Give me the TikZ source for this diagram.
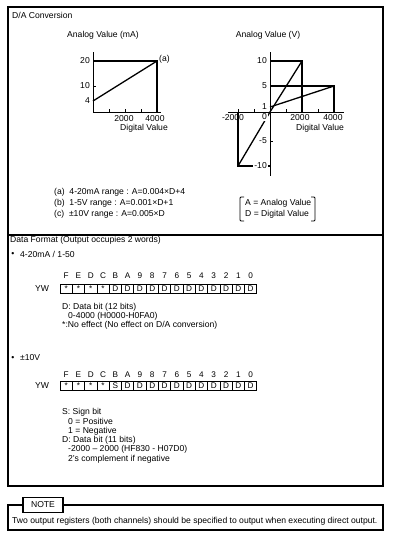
\documentclass[tikz,border=0pt]{standalone}
\usepackage{fontspec}
\setmainfont{Liberation Sans}
\begin{document}
\begin{tikzpicture}[x=1pt,y=-1pt,
  txt/.style={font=\fontsize{8.6}{10}\selectfont, inner sep=0pt},
  lbl/.style={txt, anchor=west},
  rlbl/.style={txt, anchor=east},
  frame/.style={line width=1.2pt},
  gline/.style={line width=1.3pt},
  axis/.style={line width=1pt},
  cellbox/.style={draw, line width=0.8pt, minimum width=12.3pt, minimum height=9pt, inner sep=0pt, font=\fontsize{8.2}{9}\selectfont},
  bitlbl/.style={font=\fontsize{8.2}{9}\selectfont, inner sep=0pt},
  ]
\useasboundingbox (0,0) rectangle (400,558);
% frames
\draw[frame] (8,7) rectangle (383,486);
\draw[frame] (8,235) -- (383,235);
\node[lbl] (title) at (12,15) {D/A Conversion};
% ---------- left graph
\node[txt] (ylabA) at (103,35) {Analog Value (mA)};
\coordinate (Ao) at (93,112);
\coordinate (Atop) at (93,52);
\coordinate (Aend) at (161,112);
\draw[axis] (Atop) -- (Ao) -- (Aend);
\foreach \x in {109,125,141,157} \draw[axis] (\x,112) -- (\x,109);
\draw[axis] (93,86) -- (96,86);
\coordinate (A20) at (93,61);
\coordinate (A20r) at (157,61);
\coordinate (A4) at (93,101);
\draw[gline] (A20) -- (A20r) -- (157,112);
\draw[gline] (A4) -- (A20r);
\node[rlbl] (a20) at (90,61) {20};
\node[rlbl] (a10) at (90,86) {10};
\node[rlbl] (a4) at (90,101) {4};
\node[lbl] (aa) at (159,59) {(a)};
\node[txt] (ax2) at (124,119) {2000};
\node[txt] (ax4) at (155,119) {4000};
\node[txt] (axl) at (144,128) {Digital Value};
% ---------- right graph
\node[txt] (ylabV) at (268,35) {Analog Value (V)};
\draw[axis] (270,52) -- (270,176);
\draw[axis] (228,112) -- (344,112);
\foreach \x in {238,254,286,302,318,334} \draw[axis] (\x,112) -- (\x,109);
\draw[axis] (270,141) -- (273,141);
\draw[gline] (270,61) -- (302,61) -- (302,112);
\draw[gline] (270,86) -- (334,86) -- (334,112);
\draw[gline] (270,107) -- (334,86);
\draw[gline] (238,166) -- (270,112) -- (302,61);
\draw[gline] (238,112) -- (238,166) -- (270,166);
\node[rlbl] (v10) at (267,61) {10};
\node[rlbl] (v5) at (267,86) {5};
\node[rlbl] (v1) at (267,107) {1};
\node[rlbl, fill=white, inner sep=1pt] (v0) at (268,117) {0};
\node[rlbl, fill=white, inner sep=1pt] (vm5) at (268,141) {-5};
\node[rlbl, fill=white, inner sep=1pt] (vm10) at (268,166) {-10};
\node[txt] (vxm2) at (233,118) {-2000};
\node[txt] (vx2) at (300,118) {2000};
\node[txt] (vx4) at (333,118) {4000};
\node[txt] (vxl) at (320,128) {Digital Value};
% legend bracket
\draw[line width=0.9pt, rounded corners=1pt] (244,197) -- (240,197) -- (240,221) -- (244,221);
\draw[line width=0.9pt, rounded corners=1pt] (311,197) -- (315,197) -- (315,221) -- (311,221);
\node[lbl] (leg1) at (245,203) {A = Analog Value};
\node[lbl] (leg2) at (245,214) {D = Digital Value};
% formulas
\node[lbl] (fa) at (54,192) {(a)\ \ 4-20mA range : A=0.004×D+4};
\node[lbl] (fb) at (54,203) {(b)\ \ 1-5V range : A=0.001×D+1};
\node[lbl] (fc) at (54,214) {(c)\ \ ±10V range : A=0.005×D};
% ---------- data format
\node[lbl] (df) at (10,240) {Data Format (Output occupies 2 words)};
\node[txt] (b1) at (13,254) {•};
\node[lbl] (b1t) at (20,254) {4-20mA / 1-50};
\foreach \l [count=\i from 0] in {F,E,D,C,B,A,9,8,7,6,5,4,3,2,1,0}
  \node[bitlbl] (ta\i) at ({60+12.3*(\i+0.5)},276) {\l};
\node[txt] (yw1) at (42,288.5) {YW};
\foreach \l [count=\i from 0] in {*,*,*,*,D,D,D,D,D,D,D,D,D,D,D,D}
  \node[cellbox] (ca\i) at ({60+12.3*(\i+0.5)},288.5) {\l};
\node[lbl] (d1) at (62,307) {D: Data bit (12 bits)};
\node[lbl] (d2) at (68,316) {0-4000 (H0000-H0FA0)};
\node[lbl] (d3) at (62,325) {*:No effect (No effect on D/A conversion)};
\node[txt] (b2) at (13,358) {•};
\node[lbl] (b2t) at (20,358) {±10V};
\foreach \l [count=\i from 0] in {F,E,D,C,B,A,9,8,7,6,5,4,3,2,1,0}
  \node[bitlbl] (tb\i) at ({60+12.3*(\i+0.5)},375) {\l};
\node[txt] (yw2) at (42,385.5) {YW};
\foreach \l [count=\i from 0] in {*,*,*,*,S,D,D,D,D,D,D,D,D,D,D,D}
  \node[cellbox] (cb\i) at ({60+12.3*(\i+0.5)},385.5) {\l};
\node[lbl] (s1) at (62,412) {S: Sign bit};
\node[lbl] (s2) at (68,421) {0 = Positive};
\node[lbl] (s3) at (68,431) {1 = Negative};
\node[lbl] (s4) at (62,440) {D: Data bit (11 bits)};
\node[lbl] (s5) at (68,449) {-2000 – 2000 (HF830 - H07D0)};
\node[lbl] (s6) at (68,459) {2's complement if negative};
% ---------- note
\draw[frame] (8,505) rectangle (383,530);
\node[txt, draw, fill=white, line width=1.2pt, minimum width=40pt, minimum height=15pt] (note) at (43,505) {NOTE};
\node[lbl] (notetxt) at (12,521) {Two output registers (both channels) should be specified to output when executing direct output.};
\end{tikzpicture}
\end{document}
